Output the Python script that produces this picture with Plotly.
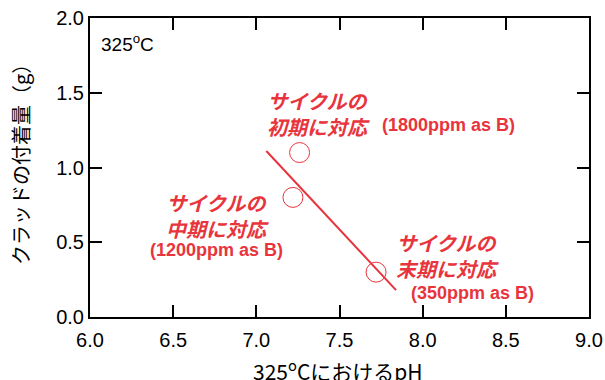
import plotly.graph_objects as go

# Data
ph_values = [7.26, 7.22, 7.72]
deposit_g = [1.10, 0.80, 0.30]
trend_ph = [7.06, 7.84]
trend_deposit = [1.11, 0.18]
x_ticks = [6.0, 6.5, 7.0, 7.5, 8.0, 8.5, 9.0]
y_ticks = [0.0, 0.5, 1.0, 1.5, 2.0]

RED = "#e8343c"
JP = "Noto Sans CJK JP"
AR = "Liberation Sans, Arial"

L, R, T, B = 90, 16, 18, 63
W, H = 605, 380
PW, PH = W - L - R, H - T - B

fig = go.Figure()
fig.add_trace(go.Scatter(x=trend_ph, y=trend_deposit, mode="lines",
                         line=dict(color=RED, width=2), showlegend=False))
fig.add_trace(go.Scatter(x=ph_values, y=deposit_g, mode="markers",
                         marker=dict(symbol="circle-open", size=20, color=RED,
                                     line=dict(width=1, color=RED)),
                         showlegend=False))

def px_x(p):
    return (p - L) / PW

def px_y(p):
    return (H - B - p) / PH

ann = []
def add(text, x, y, family, size, color, xanchor="center", angle=0):
    ann.append(dict(text=text, x=px_x(x), y=px_y(y), xref="paper", yref="paper",
                    showarrow=False, xanchor=xanchor, yanchor="middle", textangle=angle,
                    font=dict(family=family, size=size, color=color)))

def jp(text, x, y, xanchor="center"):
    add("<b><i>" + text + "</i></b>", x, y, JP, 20, RED, xanchor)

def pp(text, x, y, xanchor="center"):
    add("<b>" + text + "</b>", x, y, AR, 18, RED, xanchor)

jp("サイクルの<br>初期に対応", 318, 113)
pp("(1800ppm as B)", 380, 125, "left")
jp("サイクルの<br>中期に対応", 217, 215)
pp("(1200ppm as B)", 216, 250)
jp("サイクルの<br>末期に対応", 447, 255)
pp("(350ppm as B)", 472, 293)

add("325<sup>o</sup>C", 99, 43, AR, 19, "black", "left")
add("325<sup>o</sup>CにおけるpH", 338, 370, JP, 21, "black")
add("クラッドの付着量（g）", 20, 160, JP, 20, "black", angle=-90)

axis_common = dict(ticks="inside", ticklen=12, tickwidth=2, tickcolor="black",
                   showline=True, linewidth=2, linecolor="black", mirror="ticks",
                   showgrid=False, zeroline=False, automargin=False,
                   tickfont=dict(family=AR, size=20, color="black"))

fig.update_layout(
    template="none",
    width=W, height=H,
    margin=dict(l=L, r=R, t=T, b=B),
    paper_bgcolor="white", plot_bgcolor="white",
    annotations=ann,
    xaxis=dict(range=[6.0, 9.0], tickvals=x_ticks, ticktext=[f"{v:.1f}" for v in x_ticks],
               ticklabelstandoff=4, **axis_common),
    yaxis=dict(range=[0.0, 2.0], tickvals=y_ticks, ticktext=[f"{v:.1f}" for v in y_ticks],
               **axis_common),
)

fig.write_html("out.html", config={"displayModeBar": False},
               post_script="document.body.style.margin='0';")
